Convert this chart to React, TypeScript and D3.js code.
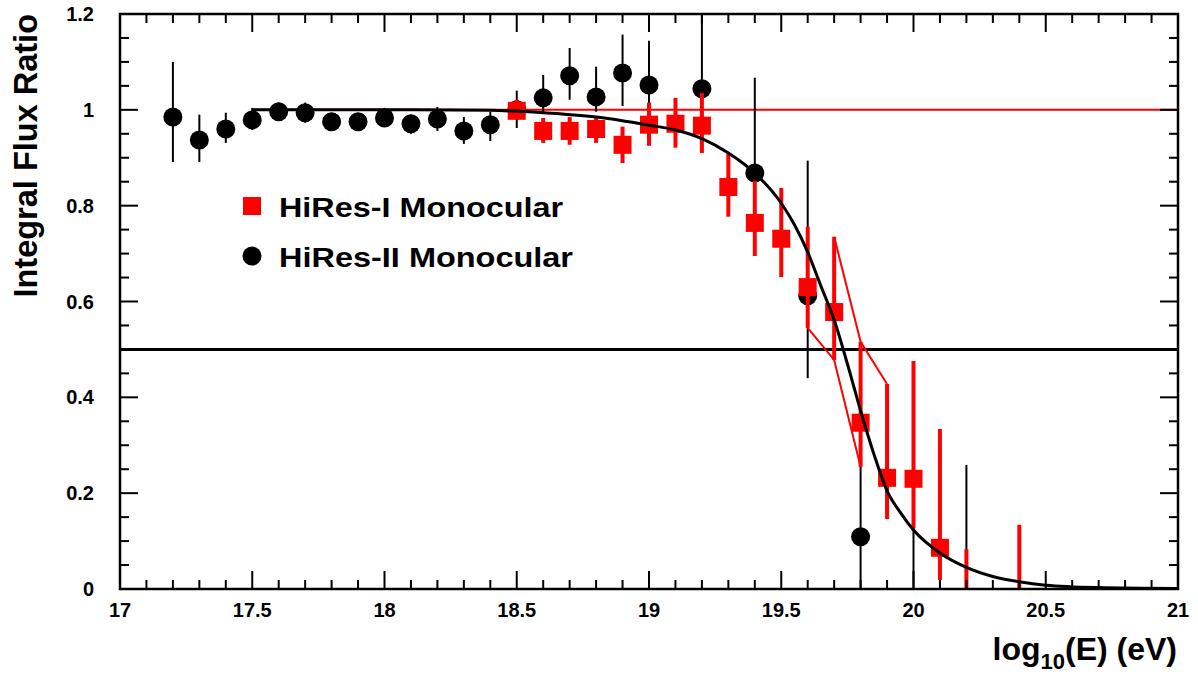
import React from "react";
import * as d3 from "d3";

// HiRes-II (black circles): [log10E, value, low, high]
const hires2X = [17.2, 17.3, 17.4, 17.5, 17.6, 17.7, 17.8, 17.9, 18.0, 18.1, 18.2, 18.3, 18.4, 18.5, 18.6, 18.7, 18.8, 18.9, 19.0, 19.2, 19.4, 19.6, 19.8, 20.0, 20.1, 20.2];
const hires2Y = [0.985, 0.937, 0.96, 0.979, 0.996, 0.994, 0.975, 0.975, 0.983, 0.971, 0.981, 0.956, 0.969, 1.0, 1.025, 1.071, 1.027, 1.077, 1.052, 1.044, 0.868, 0.612, 0.109, 0, 0, 0];
const hires2Lo = [0.891, 0.891, 0.931, 0.958, 0.977, 0.973, 0.958, 0.958, 0.965, 0.95, 0.956, 0.929, 0.935, 0.962, 0.995, 1.021, 0.996, 1.008, 0.985, 0.96, 0.7, 0.44, 0, 0, 0, 0];
const hires2Hi = [1.1, 0.99, 0.994, 1.004, 1.015, 1.015, 0.992, 0.992, 1.004, 0.99, 1.006, 0.985, 0.996, 1.04, 1.073, 1.129, 1.09, 1.157, 1.144, 1.25, 1.067, 0.894, 0.26, 0.4, 0.3, 0.259];

// HiRes-I (red squares)
const hires1X = [18.5, 18.6, 18.7, 18.8, 18.9, 19.0, 19.1, 19.2, 19.3, 19.4, 19.5, 19.6, 19.7, 19.8, 19.9, 20.0, 20.1, 20.2, 20.4];
const hires1Y = [0.998, 0.956, 0.956, 0.96, 0.927, 0.969, 0.971, 0.967, 0.839, 0.764, 0.731, 0.63, 0.578, 0.347, 0.232, 0.23, 0.086, 0, 0];
const hires1Lo = [0.979, 0.931, 0.927, 0.931, 0.889, 0.925, 0.921, 0.91, 0.777, 0.695, 0.651, 0.545, 0.478, 0.255, 0.146, 0.127, 0.019, 0, 0];
const hires1Hi = [1.021, 0.983, 0.985, 0.985, 0.965, 1.015, 1.025, 1.035, 0.91, 0.852, 0.837, 0.756, 0.735, 0.516, 0.428, 0.476, 0.334, 0.083, 0.134];

// Shifted band outline (red)
const bandUpper: [number, number][] = [[19.7, 0.735], [19.8, 0.516], [19.9, 0.428]];
const bandLower: [number, number][] = [[19.6, 0.545], [19.7, 0.478], [19.8, 0.255]];

// Fit curve
const fitX = [17.5, 18.0, 18.4, 18.6, 18.8, 19.0, 19.1, 19.2, 19.3, 19.4, 19.5, 19.55, 19.6, 19.65, 19.7, 19.75, 19.8, 19.85, 19.9, 19.95, 20.0, 20.1, 20.2, 20.3, 20.4, 20.5, 20.7, 21.0];
const fitY = [1.0, 1.0, 0.999, 0.994, 0.985, 0.968, 0.958, 0.94, 0.91, 0.868, 0.805, 0.76, 0.703, 0.632, 0.562, 0.47, 0.372, 0.282, 0.205, 0.16, 0.123, 0.075, 0.045, 0.026, 0.015, 0.008, 0.003, 0.001];

const xMajor = [17, 17.5, 18, 18.5, 19, 19.5, 20, 20.5, 21];
const xMajorLabels = ["17", "17.5", "18", "18.5", "19", "19.5", "20", "20.5", "21"];
const yMajor = [0, 0.2, 0.4, 0.6, 0.8, 1.0, 1.2];
const yMajorLabels = ["0", "0.2", "0.4", "0.6", "0.8", "1", "1.2"];

const legendLabels = ["HiRes-I Monocular", "HiRes-II Monocular"];

const RED = "#ff0000";
const FONT = "'Liberation Sans', Arial, Helvetica, sans-serif";

export default function App() {
  const W = 1198, H = 679;
  const L = 120, R = 1178, T = 14, B = 589;
  const x = d3.scaleLinear().domain([17, 21]).range([L, R]);
  const y = d3.scaleLinear().domain([0, 1.2]).range([B, T]);

  const xMinor = d3.range(170, 211).map((v) => v / 10);
  const yMinor = d3.range(0, 25).map((v) => v * 0.05);

  const line = d3.line<[number, number]>().x((d) => x(d[0])).y((d) => y(d[1]));
  const fitLine = d3
    .line<[number, number]>()
    .x((d) => x(d[0]))
    .y((d) => y(d[1]))
    .curve(d3.curveMonotoneX);
  const fitPts: [number, number][] = fitX.map((v, i) => [v, fitY[i]]);

  const isMajorX = (v: number) => xMajor.some((m) => Math.abs(m - v) < 1e-6);
  const isMajorY = (v: number) => yMajor.some((m) => Math.abs(m - v) < 1e-6);

  return (
    <svg width={W} height={H} style={{ position: "absolute", left: 0, top: 0, background: "#fff" }} fontFamily={FONT}>
      <defs>
        <clipPath id="plot">
          <rect x={L} y={T} width={R - L} height={B - T} />
        </clipPath>
      </defs>
      <rect x={0} y={0} width={W} height={H} fill="#fff" />

      <g clipPath="url(#plot)">
        {/* horizontal reference lines */}
        <line x1={L} x2={R} y1={y(0.5)} y2={y(0.5)} stroke="#000" strokeWidth={3} />
        <line x1={x(17.5)} x2={R} y1={y(1)} y2={y(1)} stroke={RED} strokeWidth={2} />

        {/* HiRes-II */}
        {hires2X.map((v, i) => (
          <line key={"be" + i} x1={x(v)} x2={x(v)} y1={y(hires2Lo[i])} y2={y(hires2Hi[i])} stroke="#000" strokeWidth={2} />
        ))}
        {hires2X.map((v, i) =>
          hires2Y[i] > 0 ? <circle key={"bc" + i} cx={x(v)} cy={y(hires2Y[i])} r={9.5} fill="#000" /> : null
        )}

        {/* HiRes-I */}
        {hires1X.map((v, i) => (
          <line key={"re" + i} x1={x(v)} x2={x(v)} y1={y(hires1Lo[i])} y2={y(hires1Hi[i])} stroke={RED} strokeWidth={4} />
        ))}
        {hires1X.map((v, i) =>
          hires1Y[i] > 0 ? (
            <rect key={"rs" + i} x={x(v) - 9} y={y(hires1Y[i]) - 9} width={18} height={18} fill={RED} />
          ) : null
        )}

        <path d={line(bandUpper) || ""} fill="none" stroke={RED} strokeWidth={2} />
        <path d={line(bandLower) || ""} fill="none" stroke={RED} strokeWidth={2} />

        <path d={fitLine(fitPts) || ""} fill="none" stroke="#000" strokeWidth={3} />
      </g>

      {/* ticks */}
      {xMinor.map((v, i) => {
        const len = isMajorX(v) ? 18 : 9;
        return (
          <g key={"xt" + i}>
            <line x1={x(v)} x2={x(v)} y1={B} y2={B - len} stroke="#000" strokeWidth={2} />
            <line x1={x(v)} x2={x(v)} y1={T} y2={T + len} stroke="#000" strokeWidth={2} />
          </g>
        );
      })}
      {yMinor.map((v, i) => {
        const len = isMajorY(v) ? 18 : 9;
        return (
          <g key={"yt" + i}>
            <line x1={L} x2={L + len} y1={y(v)} y2={y(v)} stroke="#000" strokeWidth={2} />
            <line x1={R} x2={R - len} y1={y(v)} y2={y(v)} stroke="#000" strokeWidth={2} />
          </g>
        );
      })}

      {/* frame */}
      <rect x={L} y={T} width={R - L} height={B - T} fill="none" stroke="#000" strokeWidth={2.5} />

      {/* tick labels */}
      {xMajor.map((v, i) => (
        <text key={"xl" + i} x={x(v)} y={617} textAnchor="middle" fontSize={20} fontWeight="bold" fill="#000">
          {xMajorLabels[i]}
        </text>
      ))}
      {yMajor.map((v, i) => (
        <text key={"yl" + i} x={94} y={y(v)} dy="0.35em" textAnchor="end" fontSize={20} fontWeight="bold" fill="#000">
          {yMajorLabels[i]}
        </text>
      ))}

      {/* axis titles */}
      <text x={1177} y={660} textAnchor="end" fontSize={32} fontWeight="bold" fill="#000">
        log<tspan fontSize={22} dy={9}>10</tspan>
        <tspan dy={-9}>(E) (eV)</tspan>
      </text>
      <text transform="translate(37,14) rotate(-90)" textAnchor="end" fontSize={32.5} fontWeight="bold" fill="#000">
        Integral Flux Ratio
      </text>

      {/* legend */}
      <rect x={243} y={197} width={18} height={18} fill={RED} />
      <text x={279} y={217} fontSize={27} fontWeight="bold" fill="#000" textLength={284} lengthAdjust="spacingAndGlyphs">
        {legendLabels[0]}
      </text>
      <circle cx={252} cy={256} r={9.5} fill="#000" />
      <text x={279} y={267} fontSize={27} fontWeight="bold" fill="#000" textLength={294} lengthAdjust="spacingAndGlyphs">
        {legendLabels[1]}
      </text>
    </svg>
  );
}
